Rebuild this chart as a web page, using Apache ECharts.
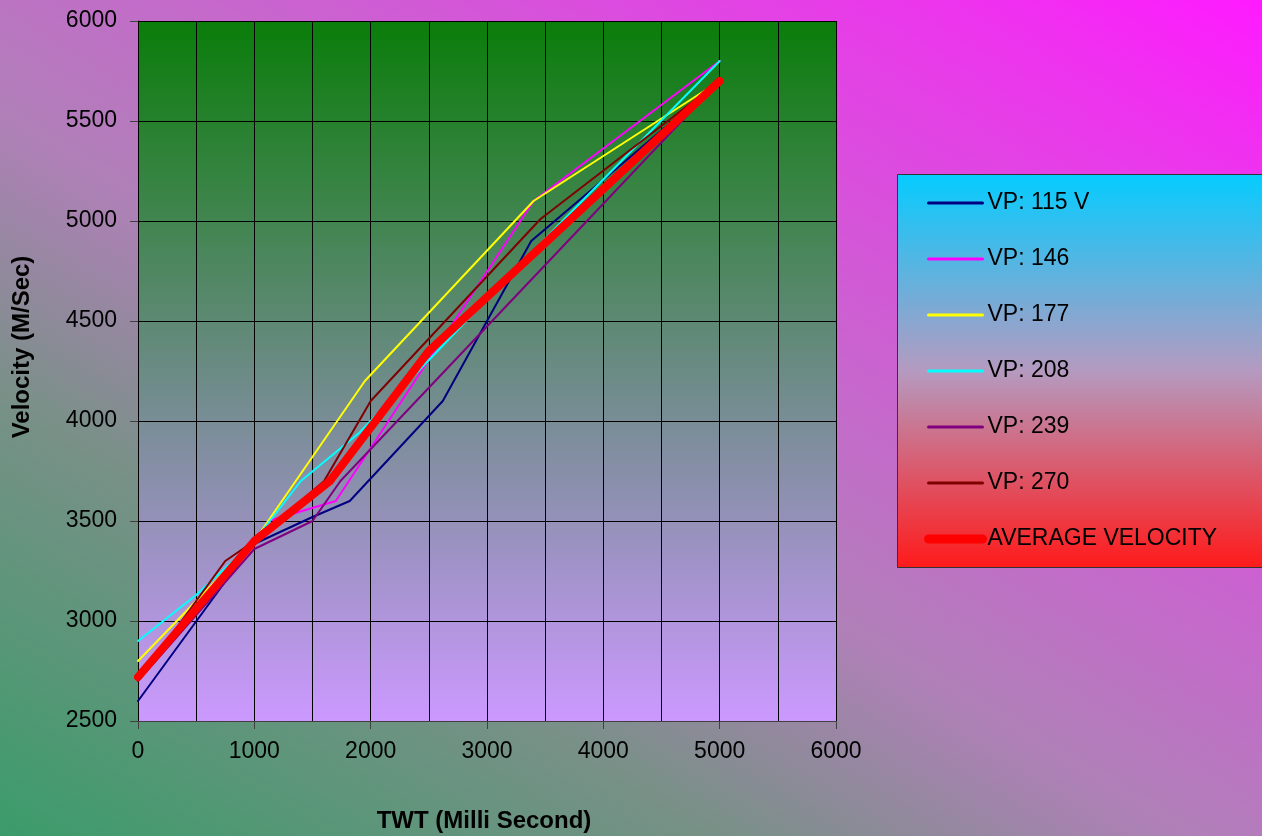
<!DOCTYPE html>
<html>
<head>
<meta charset="utf-8">
<title>Velocity vs TWT</title>
<script src="https://cdn.jsdelivr.net/npm/echarts@6/dist/echarts.min.js"></script>
<style>
  html, body { margin: 0; padding: 0; }
  #chart { width: 1262px; height: 836px; }
</style>
</head>
<body>
<div id="chart"></div>
<script>
// Velocity picks per VP: two-way time (ms) and velocity (m/s)
const vp115Twt = [0, 980, 1500, 1820, 2620, 3380, 5000];
const vp115Vel = [2600, 3380, 3520, 3600, 4100, 4900, 5700];

const vp146Twt = [0, 1000, 1120, 1700, 3400, 5000];
const vp146Vel = [2710, 3400, 3500, 3600, 5100, 5800];

const vp177Twt = [0, 1000, 1950, 3400, 5000];
const vp177Vel = [2800, 3400, 4200, 5100, 5700];

const vp208Twt = [0, 500, 1000, 1400, 1900, 3480, 5000];
const vp208Vel = [2900, 3130, 3400, 3700, 3940, 4900, 5800];

const vp239Twt = [0, 1000, 1500, 1740, 5000];
const vp239Vel = [2700, 3360, 3500, 3700, 5700];

const vp270Twt = [0, 750, 1000, 1600, 2000, 3460, 5000];
const vp270Vel = [2700, 3300, 3400, 3700, 4100, 5010, 5700];

const avgTwt = [0, 1000, 1650, 2500, 5000];
const avgVel = [2720, 3400, 3700, 4350, 5700];

const seriesNames = ['VP: 115 V', 'VP: 146', 'VP: 177', 'VP: 208', 'VP: 239', 'VP: 270', 'AVERAGE VELOCITY'];
const seriesColors = ['#000080', '#ff00ff', '#ffff00', '#00ffff', '#800080', '#800000', '#ff0000'];
const seriesTwt = [vp115Twt, vp146Twt, vp177Twt, vp208Twt, vp239Twt, vp270Twt, avgTwt];
const seriesVel = [vp115Vel, vp146Vel, vp177Vel, vp208Vel, vp239Vel, vp270Vel, avgVel];

const FONT = '"Liberation Sans", Arial, sans-serif';

const chart = echarts.init(document.getElementById('chart'), null, { renderer: 'canvas' });

const lineWidthOf = (i) => (i === 6 ? 8 : 2);

const series = seriesNames.map((name, i) => ({
  name: name,
  type: 'line',
  data: seriesTwt[i].map((t, j) => [t, seriesVel[i][j]]),
  symbol: 'none',
  z: i === 6 ? 4 : 3,
  lineStyle: {
    color: seriesColors[i],
    width: lineWidthOf(i),
    cap: 'round',
    join: 'round'
  },
  itemStyle: { color: seriesColors[i] },
  animation: false
}));

const plainNumber = (v) => String(v);

const option = {
  animation: false,
  backgroundColor: new echarts.graphic.LinearGradient(0, 836, 712, -335, [
    { offset: 0, color: '#3b9c6a' },
    { offset: 0.28, color: '#7a9088' },
    { offset: 0.45, color: '#b080b8' },
    { offset: 0.6, color: '#c668cc' },
    { offset: 0.9, color: '#f030f0' },
    { offset: 1, color: '#ff1aff' }
  ], true),
  grid: {
    left: 138, top: 21, right: 426, bottom: 115,
    show: true,
    borderWidth: 0,
    backgroundColor: new echarts.graphic.LinearGradient(0, 0, 0, 1, [
      { offset: 0, color: '#0a7d0a' },
      { offset: 1, color: '#cc99ff' }
    ])
  },
  xAxis: {
    type: 'value',
    min: 0, max: 6000, interval: 1000,
    axisLine: { show: true, onZero: false, lineStyle: { color: '#404040', width: 1 } },
    axisTick: { show: true, length: 8, lineStyle: { color: '#404040' } },
    axisLabel: { color: '#000', fontSize: 23, fontFamily: FONT, margin: 19, formatter: plainNumber },
    splitLine: { show: true, lineStyle: { color: '#000', width: 1 } },
    minorTick: { show: false, splitNumber: 2 },
    minorSplitLine: { show: true, lineStyle: { color: '#000', width: 1 } }
  },
  yAxis: {
    type: 'value',
    min: 2500, max: 6000, interval: 500,
    axisLine: { show: true, onZero: false, lineStyle: { color: '#000', width: 1 } },
    axisTick: { show: true, length: 8, lineStyle: { color: '#404040' } },
    axisLabel: { color: '#000', fontSize: 23, fontFamily: FONT, margin: 21, formatter: plainNumber },
    splitLine: { show: true, lineStyle: { color: '#000', width: 1 } }
  },
  legend: {
    orient: 'vertical',
    left: 924, top: 190,
    padding: 0,
    itemWidth: 54,
    itemHeight: 14,
    itemGap: 30,
    selectedMode: false,
    itemStyle: { opacity: 0 },
    data: seriesNames.map((name, i) => ({
      name: name,
      itemStyle: { opacity: 0 },
      lineStyle: { color: seriesColors[i], width: i === 6 ? 9 : 3, cap: 'round', opacity: 1 }
    })),
    textStyle: { color: '#000', fontSize: 23, fontFamily: FONT, lineHeight: 26 }
  },
  graphic: [
    {
      type: 'rect',
      z: -1,
      shape: { x: 897.5, y: 174.5, width: 370, height: 393 },
      style: {
        fill: new echarts.graphic.LinearGradient(0, 0, 0, 1, [
          { offset: 0, color: '#05ccff' },
          { offset: 0.5, color: '#b59ac0' },
          { offset: 1, color: '#ff1a1a' }
        ]),
        stroke: '#333',
        lineWidth: 1
      }
    },
    {
      type: 'text',
      x: 484, y: 821,
      style: {
        text: 'TWT (Milli Second)',
        fill: '#000',
        font: 'bold 24px ' + FONT,
        textAlign: 'center',
        textVerticalAlign: 'middle'
      }
    },
    {
      type: 'text',
      x: 22, y: 347,
      rotation: Math.PI / 2,
      style: {
        text: 'Velocity (M/Sec)',
        fill: '#000',
        font: 'bold 24px ' + FONT,
        textAlign: 'center',
        textVerticalAlign: 'middle'
      }
    }
  ],
  series: series
};

chart.setOption(option);
</script>
</body>
</html>
